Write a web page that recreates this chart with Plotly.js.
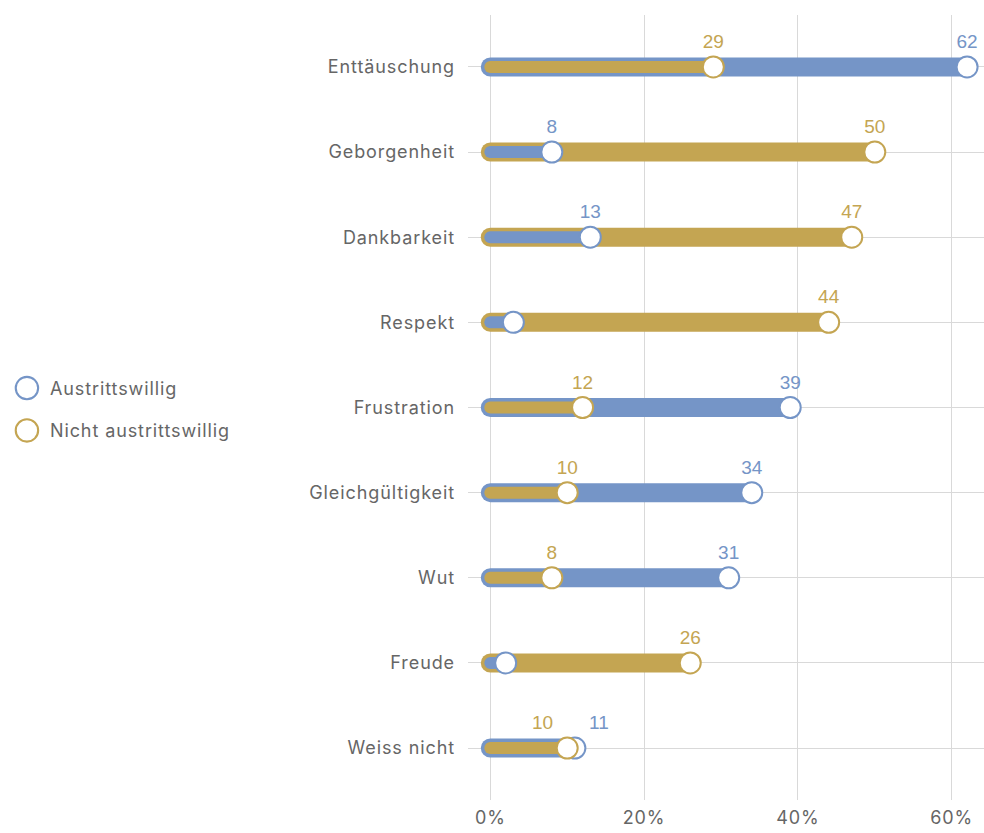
<!DOCTYPE html>
<html>
<head>
<meta charset="utf-8">
<script src="https://cdn.plot.ly/plotly-3.0.1.min.js"></script>
<style>
  html, body { margin: 0; padding: 0; background: #fff; }
  #chart { width: 984px; height: 833px; }
  .scatterlayer .js-line { stroke-linecap: round !important; }
  .ytick text, .xtick text, .legendtext { letter-spacing: 0.9px; }
</style>
</head>
<body>
<div id="chart"></div>
<script>
// ---- data ----
const categories = ["Enttäuschung", "Geborgenheit", "Dankbarkeit", "Respekt", "Frustration",
                    "Gleichgültigkeit", "Wut", "Freude", "Weiss nicht"];
const austrittswillig = [62, 8, 13, 3, 39, 34, 31, 2, 11];
const nichtAustrittswillig = [29, 50, 47, 44, 12, 10, 8, 26, 10];
const seriesNames = ["Austrittswillig", "Nicht austrittswillig"];
const tickValues = [0, 20, 40, 60];
const tickLabels = tickValues.map(v => v + "%");

// ---- styles ----
const BLUE = "#7595c7";
const GOLD = "#c4a552";
const TEXT = "#666666";
const GRID = "#d9d9d9";
const FONT = "Inter, 'Open Sans', sans-serif";
const NUMFONT = "'Liberation Sans', Arial, sans-serif";

const series = [
  { name: seriesNames[0], values: austrittswillig, color: BLUE },
  { name: seriesNames[1], values: nichtAustrittswillig, color: GOLD }
];

const traces = [];
categories.forEach((cat, i) => {
  const pair = series.map(s => ({ s, v: s.values[i] }));
  // larger value drawn first (underneath)
  pair.sort((a, b) => b.v - a.v);
  const close = Math.abs(pair[0].v - pair[1].v) < 4;
  pair.forEach((p, k) => {
    const big = k === 0;
    let pos = "top center";
    if (close) pos = big ? "top right" : "top left";
    traces.push({
      type: "scatter",
      mode: "lines+markers+text",
      x: [0, p.v],
      y: [cat, cat],
      showlegend: false,
      hoverinfo: "skip",
      line: { color: p.s.color, width: big ? 19 : 12 },
      marker: {
        size: [0, 21],
        opacity: 1,
        color: ["rgba(0,0,0,0)", "#ffffff"],
        line: { color: p.s.color, width: [0, 2] }
      },
      text: ["", p.v >= 5 ? String(p.v) : ""],
      textposition: pos,
      textfont: { family: NUMFONT, size: 19, color: p.s.color },
      cliponaxis: false
    });
  });
});

// legend entries
series.forEach((s, k) => {
  traces.push({
    type: "scatter",
    mode: "markers",
    x: [null], y: [null],
    name: s.name,
    legendgroup: "g" + k,
    showlegend: true,
    marker: { size: 16, opacity: 1, color: "#ffffff", line: { color: s.color, width: 1.5 } },
    hoverinfo: "skip"
  });
});

const layout = {
  width: 984,
  height: 833,
  margin: { l: 468, r: 0, t: 15, b: 33 },
  paper_bgcolor: "#ffffff",
  plot_bgcolor: "#ffffff",
  font: { family: FONT, size: 18, color: TEXT },
  showlegend: true,
  legend: {
    xref: "container", yref: "container",
    x: 0.004, y: 0.556, xanchor: "left", yanchor: "top",
    font: { family: FONT, size: 18, color: TEXT },
    itemwidth: 36,
    tracegroupgap: 16,
    bgcolor: "rgba(0,0,0,0)"
  },
  xaxis: {
    range: [-2.9, 64.2],
    tickvals: tickValues,
    ticktext: tickLabels,
    showgrid: true,
    gridcolor: GRID,
    gridwidth: 1,
    zeroline: false,
    ticks: "",
    showline: false,
    ticklabelstandoff: 5,
    fixedrange: true,
    tickfont: { family: FONT, size: 18, color: TEXT }
  },
  yaxis: {
    type: "category",
    categoryorder: "array",
    categoryarray: categories,
    range: [8.61, -0.61],
    showgrid: true,
    gridcolor: GRID,
    gridwidth: 1,
    zeroline: false,
    ticks: "",
    showline: false,
    ticklabelstandoff: 12,
    fixedrange: true,
    tickfont: { family: FONT, size: 18, color: TEXT }
  }
};

Plotly.newPlot("chart", traces, layout, { displayModeBar: false, staticPlot: true }).then(gd => {
  // enlarge legend symbols (Plotly caps legend marker size at 16px)
  gd.querySelectorAll(".legend .legendpoints path").forEach(p => {
    const t = p.getAttribute("transform") || "";
    p.setAttribute("transform", t + " scale(1.4)");
  });
});
</script>
</body>
</html>
